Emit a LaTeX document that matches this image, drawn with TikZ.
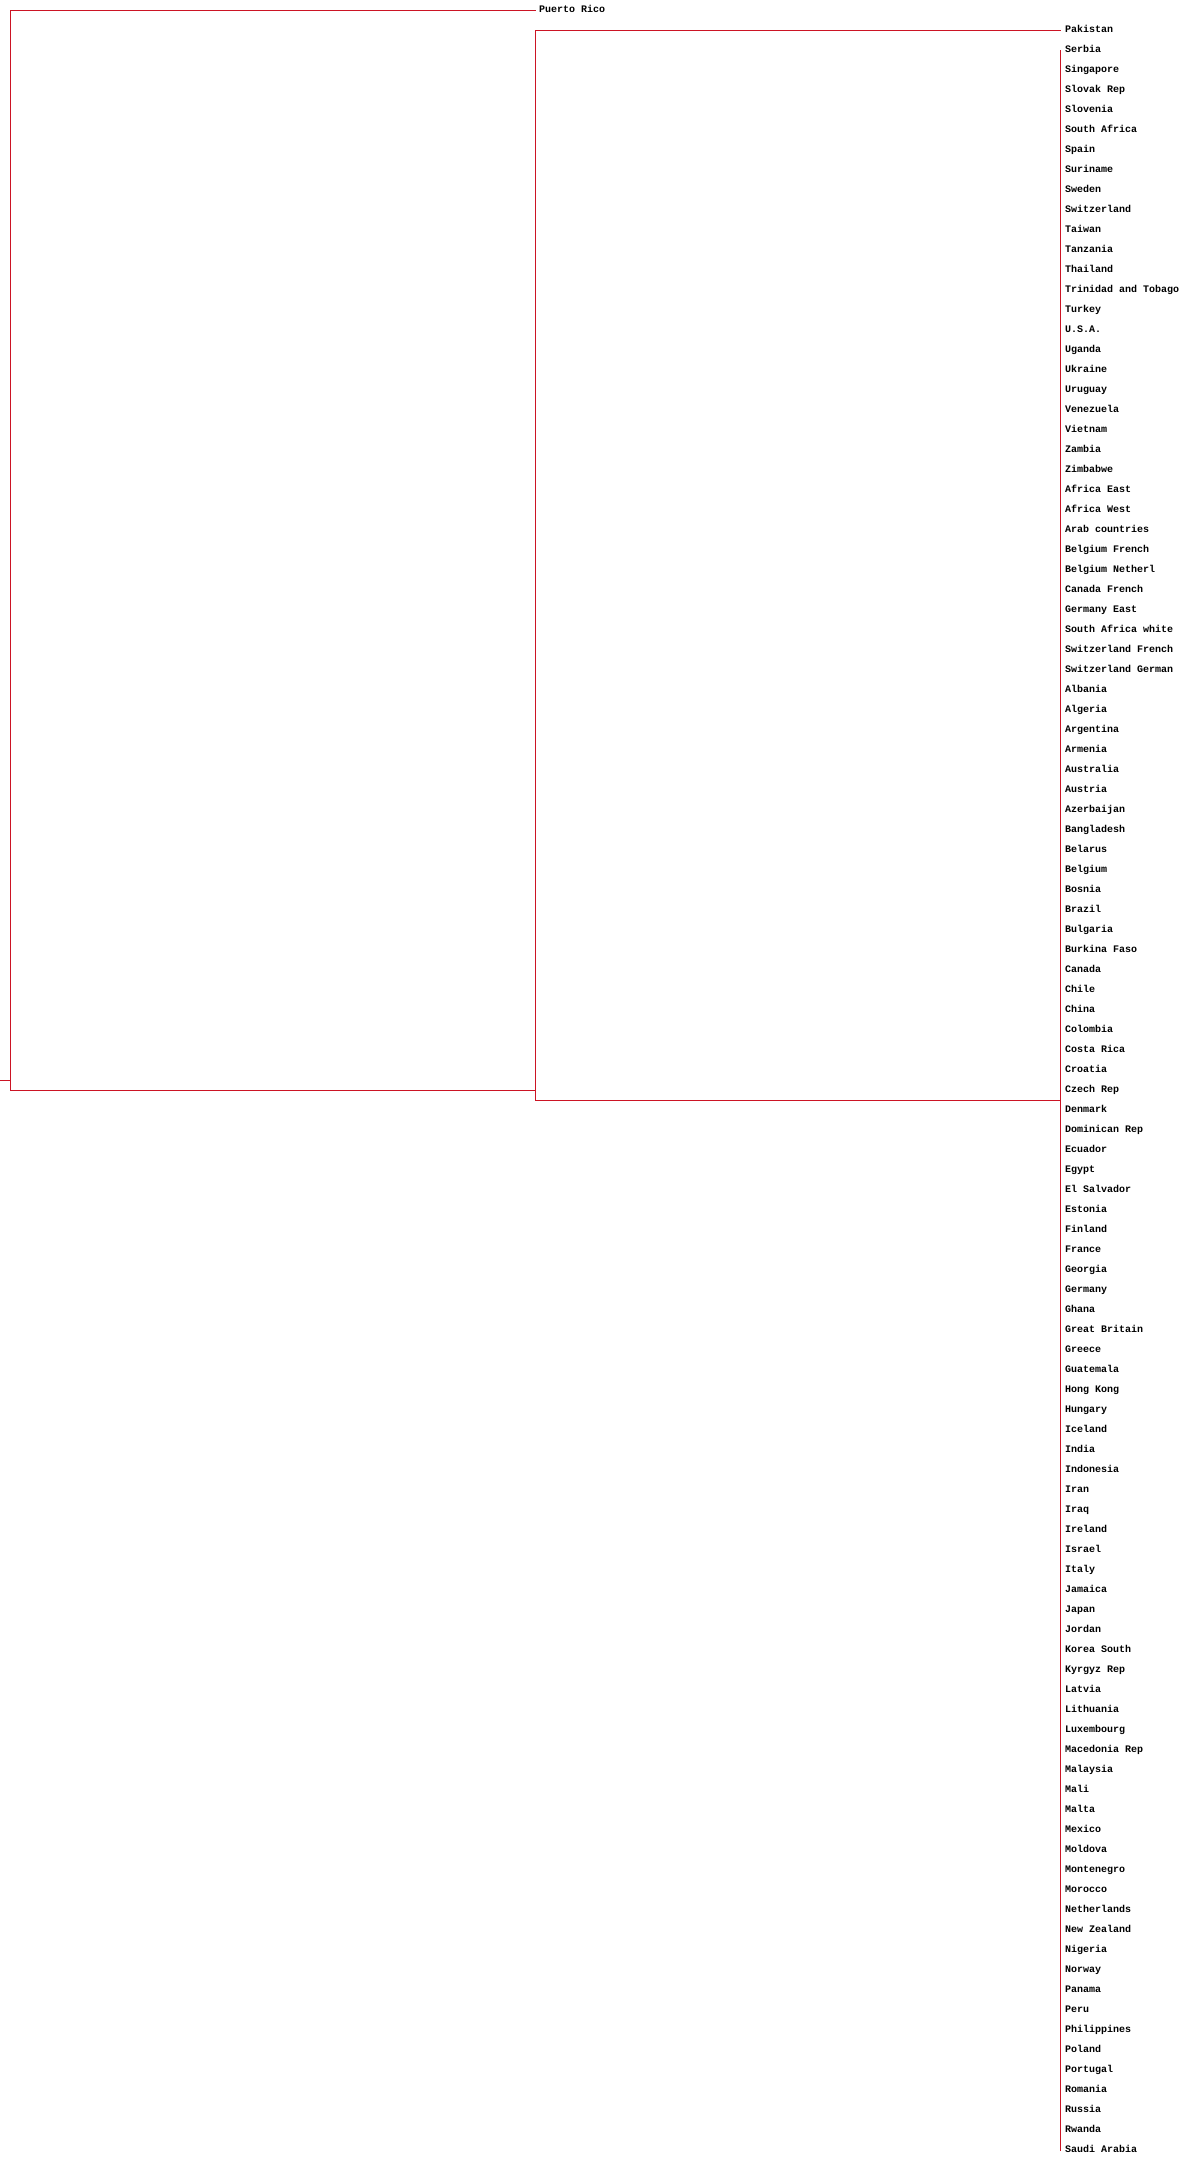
\documentclass[tikz,border=0pt]{standalone}
\usepackage{fontspec}
\newfontfamily\labfont{Liberation Mono}
\definecolor{dendro}{RGB}{204,20,36}
\begin{document}
\begin{tikzpicture}[x=1pt,y=-1pt,
  link/.style={draw=dendro,line width=1.1pt},
  leaf/.style={anchor=base west,inner sep=0pt,font=\labfont\bfseries\fontsize{10}{12}\selectfont}]
\useasboundingbox (0,0) rectangle (1200,2160);
\fill[white] (0,0) rectangle (1200,2160);
% internal nodes and leaf tips
\coordinate (rootin) at (0,1080.5);
\coordinate (root) at (10.5,1080.5);
\coordinate (n2) at (535.5,1090.5);
\coordinate (c) at (1060.5,1100.5);
\coordinate (prtip) at (535.5,10.5);
\coordinate (pktip) at (1060.5,30.5);
\coordinate (ctop) at (1060.5,50);
\coordinate (cbot) at (1060.5,2151);
% labels
\node[leaf] (pr) at (539,12.5) {Puerto Rico};
\node[leaf] (pk) at (1065,32.5) {Pakistan};
\foreach \nm [count=\i from 2] in {Serbia, Singapore, Slovak Rep, Slovenia, South Africa, Spain, Suriname, Sweden, Switzerland, Taiwan, Tanzania, Thailand, Trinidad and Tobago, Turkey, U.S.A., Uganda, Ukraine, Uruguay, Venezuela, Vietnam, Zambia, Zimbabwe, Africa East, Africa West, Arab countries, Belgium French, Belgium Netherl, Canada French, Germany East, South Africa white, Switzerland French, Switzerland German, Albania, Algeria, Argentina, Armenia, Australia, Austria, Azerbaijan, Bangladesh, Belarus, Belgium, Bosnia, Brazil, Bulgaria, Burkina Faso, Canada, Chile, China, Colombia, Costa Rica, Croatia, Czech Rep, Denmark, Dominican Rep, Ecuador, Egypt, El Salvador, Estonia, Finland, France, Georgia, Germany, Ghana, Great Britain, Greece, Guatemala, Hong Kong, Hungary, Iceland, India, Indonesia, Iran, Iraq, Ireland, Israel, Italy, Jamaica, Japan, Jordan, Korea South, Kyrgyz Rep, Latvia, Lithuania, Luxembourg, Macedonia Rep, Malaysia, Mali, Malta, Mexico, Moldova, Montenegro, Morocco, Netherlands, New Zealand, Nigeria, Norway, Panama, Peru, Philippines, Poland, Portugal, Romania, Russia, Rwanda, Saudi Arabia}
  \node[leaf] (l\i) at (1065,{12.3+20*\i}) {\nm};
% connectors
\draw[link] (rootin) -- (root);
\draw[link] (prtip) -| (root) |- (n2);
\draw[link] (pktip) -| (n2) |- (c);
\draw[link] (ctop) -- (cbot);
\end{tikzpicture}
\end{document}
